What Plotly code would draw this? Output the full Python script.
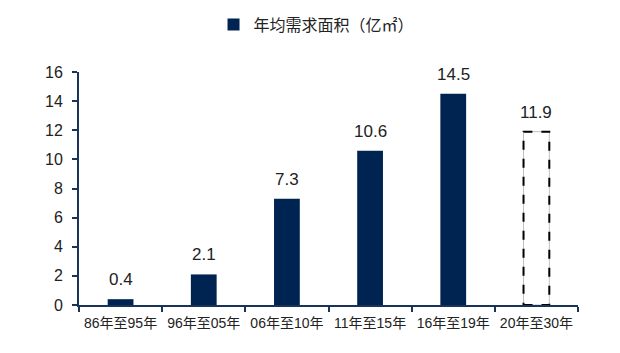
import plotly.graph_objects as go

categories = ["86年至95年", "96年至05年", "06年至10年", "11年至15年", "16年至19年", "20年至30年"]
values = [0.4, 2.1, 7.3, 10.6, 14.5, 11.9]
forecast = [False, False, False, False, False, True]
series_name = "年均需求面积（亿㎡）"
y_ticks = [0, 2, 4, 6, 8, 10, 12, 14, 16]

navy = "#002452"
axis_col = "#1a3358"
bar_w = 0.31
font_fam = "Liberation Sans, Arial, Noto Sans CJK SC"

fig = go.Figure()
hist_x = [c for c, f in zip(categories, forecast) if not f]
hist_y = [v for v, f in zip(values, forecast) if not f]
fc_x = [c for c, f in zip(categories, forecast) if f]
fc_y = [v for v, f in zip(values, forecast) if f]

fig.add_trace(go.Bar(
    x=hist_x, y=hist_y, name=series_name, width=bar_w,
    marker=dict(color=navy, line=dict(width=0)),
))
fig.add_trace(go.Bar(
    x=fc_x, y=fc_y, name="预测", width=bar_w, showlegend=False,
    marker=dict(color="white", line=dict(width=0.6, color="#8a95a5")),
))
for c, v in zip(fc_x, fc_y):
    i = categories.index(c)
    fig.add_shape(type="rect", xref="x", yref="y",
                  x0=i - bar_w / 2, x1=i + bar_w / 2, y0=0, y1=v,
                  line=dict(color="black", width=2, dash="dash"),
                  fillcolor="rgba(0,0,0,0)")

for c, v in zip(categories, values):
    fig.add_annotation(x=c, y=v, text=f"{v:.1f}", showarrow=False,
                       yanchor="bottom", yshift=8,
                       font=dict(size=17, color="#222222", family=font_fam))

fig.update_layout(
    width=620, height=353,
    margin=dict(l=79, r=42, t=72, b=48),
    plot_bgcolor="white", paper_bgcolor="white",
    barmode="overlay",
    font=dict(family=font_fam, color="#222222"),
    legend=dict(orientation="h", x=0.476, xanchor="center",
                yref="container", y=0.93, yanchor="middle",
                font=dict(size=16, family="Noto Sans CJK SC", color="#222222"),
                itemwidth=30),
    xaxis=dict(
        categoryorder="array", categoryarray=categories,
        showline=True, linecolor=axis_col, linewidth=2,
        ticks="outside", tickson="boundaries", ticklen=5, tickcolor=axis_col, tickwidth=1.5,
        tickfont=dict(size=14, color="#222222", family=font_fam),
        ticklabelstandoff=4,
        range=[-0.5, len(categories) - 0.5],
    ),
    yaxis=dict(
        range=[0, 16], tickvals=y_ticks,
        showline=True, linecolor=axis_col, linewidth=2,
        ticks="outside", ticklen=5, tickcolor=axis_col, tickwidth=1.5,
        showgrid=False, zeroline=False,
        ticklabelstandoff=6,
        tickfont=dict(size=16, color="#222222", family=font_fam),
    ),
)

fig.write_html("out.html")
